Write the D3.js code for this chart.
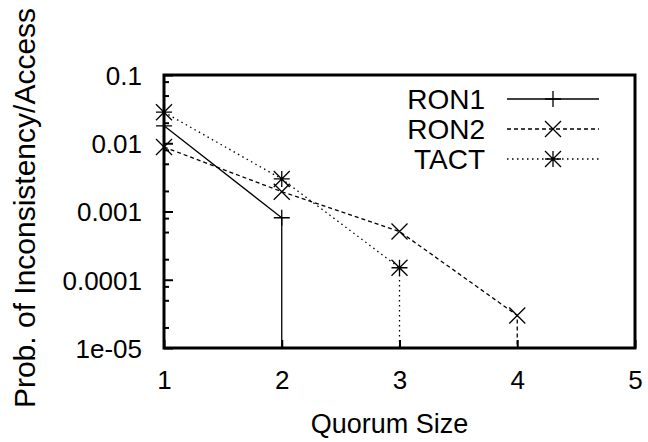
<!DOCTYPE html>
<html lang="en">
<head>
    <meta charset="UTF-8">
    <title>Quorum size</title>
    <script src="https://d3js.org/d3.v7.min.js"></script>
</head>
<body>
<svg id="chart"></svg>
</body>

<style>
    body {
        margin: 0;
        background: #fff;
    }

    text {
        font-family: "Liberation Sans", Arial, sans-serif;
        font-size: 26px;
        fill: #000;
    }

    .tick line {
        stroke: #000;
        stroke-width: 2px;
    }

    path.series {
        fill: none;
        stroke: #000;
        stroke-width: 1.3px;
    }
</style>

<script>
    // values
    const quorumSizes = [1, 2, 3, 4, 5];
    const ron1 = [0.018, 0.00081];
    const ron2 = [0.0088, 0.00195, 0.00051, 0.000030];
    const tact = [0.0285, 0.0030, 0.00015];
    const yTicks = [1e-5, 1e-4, 1e-3, 1e-2, 1e-1];
    const yTickLabels = ['1e-05', '0.0001', '0.001', '0.01', '0.1'];
    const minorSteps = [2, 5, 8];

    const series = [
        {name: 'RON1', values: ron1, dash: null, mark: 'plus'},
        {name: 'RON2', values: ron2, dash: '4,3', mark: 'cross'},
        {name: 'TACT', values: tact, dash: '1.5,3.5', mark: 'star'}
    ];

    const width = 648;
    const height = 442;
    const margin = {top: 75, right: 13, bottom: 94, left: 164};

    const svg = d3.select('#chart')
        .attr('width', width)
        .attr('height', height);

    const x = d3.scaleLinear()
        .domain([quorumSizes[0], quorumSizes[quorumSizes.length - 1]])
        .range([margin.left, width - margin.right]);

    const y = d3.scaleLog()
        .domain([yTicks[0], yTicks[yTicks.length - 1]])
        .range([height - margin.bottom, margin.top]);

    const minorTicks = [];
    yTicks.slice(0, -1).forEach(t => minorSteps.forEach(m => minorTicks.push(t * m)));

    // y axis, ticks pointing inward like gnuplot
    svg.append('g')
        .attr('transform', `translate(${margin.left},0)`)
        .call(d3.axisLeft(y).tickValues(minorTicks).tickSize(-5).tickFormat(''))
        .call(g => g.select('.domain').remove());

    svg.append('g')
        .attr('transform', `translate(${margin.left},0)`)
        .call(d3.axisLeft(y).tickValues(yTicks).tickSize(-9).tickPadding(22)
            .tickFormat((d, i) => yTickLabels[i]))
        .call(g => g.select('.domain').remove())
        .call(g => g.selectAll('text').attr('dy', '0.36em'));

    svg.append('g')
        .attr('transform', `translate(0,${height - margin.bottom})`)
        .call(d3.axisBottom(x).tickValues(quorumSizes).tickSize(-8).tickPadding(18)
            .tickFormat(d3.format('d')))
        .call(g => g.select('.domain').remove())
        .call(g => g.selectAll('text').attr('dy', '0.9em'));

    // frame
    svg.append('rect')
        .attr('x', x.range()[0])
        .attr('y', y.range()[1])
        .attr('width', x.range()[1] - x.range()[0])
        .attr('height', y.range()[0] - y.range()[1])
        .attr('fill', 'none')
        .attr('stroke', '#000')
        .attr('stroke-width', 3);

    function markPath(type, s) {
        const p = d3.path();
        if (type === 'plus' || type === 'star') {
            p.moveTo(-s, 0); p.lineTo(s, 0);
            p.moveTo(0, -s); p.lineTo(0, s);
        }
        if (type === 'cross' || type === 'star') {
            p.moveTo(-s, -s); p.lineTo(s, s);
            p.moveTo(-s, s); p.lineTo(s, -s);
        }
        return p.toString();
    }

    const line = d3.line()
        .x(d => x(d[0]))
        .y(d => y(d[1]));

    series.forEach(s => {
        const pts = s.values.map((v, i) => [quorumSizes[i], v]);
        // next value is zero, the line drops off the bottom of the log axis
        pts.push([quorumSizes[s.values.length - 1], y.domain()[0]]);

        svg.append('path')
            .attr('class', 'series')
            .attr('d', line(pts))
            .attr('stroke-dasharray', s.dash);

        svg.append('g').selectAll('path')
            .data(s.values)
            .join('path')
            .attr('transform', (d, i) => `translate(${x(quorumSizes[i])},${y(d)})`)
            .attr('d', markPath(s.mark, 8))
            .attr('stroke', '#000')
            .attr('stroke-width', 1.3)
            .attr('fill', 'none');
    });

    // legend
    const legend = svg.append('g');
    series.forEach((s, i) => {
        const ly = 99 + i * 30;
        legend.append('text')
            .attr('x', 485)
            .attr('y', ly)
            .attr('dy', '0.36em')
            .attr('text-anchor', 'end')
            .style('font-size', '28px')
            .text(s.name);
        legend.append('line')
            .attr('x1', 507).attr('x2', 599)
            .attr('y1', ly).attr('y2', ly)
            .attr('stroke', '#000')
            .attr('stroke-width', 1.3)
            .attr('stroke-dasharray', s.dash);
        legend.append('path')
            .attr('transform', `translate(553,${ly})`)
            .attr('d', markPath(s.mark, 8))
            .attr('stroke', '#000')
            .attr('stroke-width', 1.3)
            .attr('fill', 'none');
    });

    svg.append('text')
        .attr('x', (x.range()[0] + x.range()[1]) / 2 - 10)
        .attr('y', 433)
        .attr('text-anchor', 'middle')
        .style('font-size', '27px')
        .text('Quorum Size');

    svg.append('text')
        .attr('transform', 'translate(35,208) rotate(-90)')
        .attr('text-anchor', 'middle')
        .style('font-size', '30px')
        .text('Prob. of Inconsistency/Access');
</script>
</html>
